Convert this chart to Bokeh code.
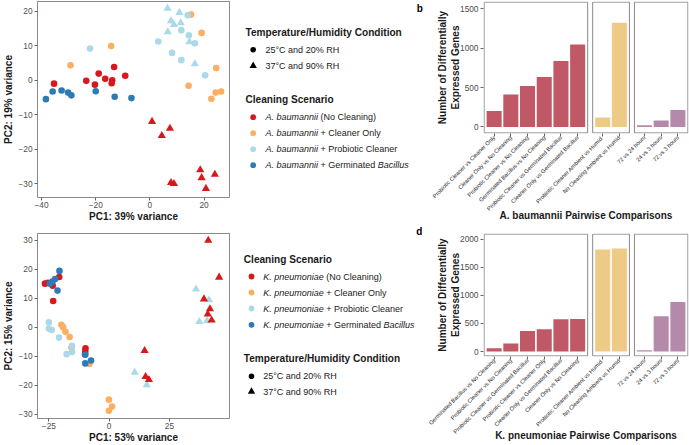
import math
from bokeh.plotting import figure
from bokeh.layouts import row, column
from bokeh.models import Range1d, FixedTicker, Label
from bokeh.embed import file_html
from bokeh.resources import INLINE
from bokeh.core.properties import value

FONT = "Liberation Sans"
INK = "#1A1A1A"
TICK_GREY = "#4D4D4D"
FRAME_GREY = "#8A8A8A"
TICK_PX = 8.3
TITLE_PX = 10.0
LEG_TITLE_PX = 10.1
ITEM_PX = 9.0
BAR_LABEL_PX = 5.7

# ---------------- categories ----------------
scenarios = ["No Cleaning", "Cleaner Only", "Probiotic Cleaner", "Germinated Bacillus"]
scenario_colors = ["#D7191C", "#FDAE61", "#ABD9E9", "#2C7BB6"]
scenario_suffix = ["(No Cleaning)", "+ Cleaner Only", "+ Probiotic Cleaner", "+ Germinated"]
scenario_tail = ["", "", "", "Bacillus"]
conditions = ["25°C and 20% RH", "37°C and 90% RH"]
condition_markers = ["circle", "triangle"]

# ---------------- panel a: A. baumannii PCA ----------------
a_pc1 = [-38.4, -35.9, -32.6, -30.2, -29.0, -20.0, -13.0, -6.8,
         -35.4, -23.5, -20.3, -18.9, -16.5, -13.9, -14.1, -13.2, -9.1,
         0.8, 7.4, 4.4, 7.8, 8.9, 18.6, 19.1, 24.0, 20.7,
         -29.3, -14.3, 15.2, 19.1, 24.5, 14.3, 24.3, 26.3, 22.7,
         -22.1, 14.0, 11.6, 14.4, 16.6, 3.1, 8.2, 11.6, 20.4,
         6.5, 10.9, 7.8, 8.9, 11.4, 6.6, 14.6, 16.6]
a_pc2 = [-5.5, -3.3, -3.0, -3.6, -4.4, -3.2, -4.8, -5.2,
         -1.0, -0.2, -1.3, 1.9, 0.4, 0.0, -0.9, 3.8, 1.3,
         -12.0, -14.0, -16.1, -29.7, -30.0, -26.0, -28.3, -27.3, -31.4,
         4.3, 9.9, 19.0, 13.7, 3.5, -1.6, -3.6, -3.3, -5.4,
         9.2, 18.8, 14.5, 13.0, 10.7, 11.2, 7.9, 5.8, 1.4,
         20.8, 19.6, 17.2, 16.1, 16.6, 14.0, 11.1, 4.7]
a_scenario = (["Germinated Bacillus"] * 8 + ["No Cleaning"] * 9 + ["No Cleaning"] * 9 +
              ["Cleaner Only"] * 9 + ["Probiotic Cleaner"] * 9 + ["Probiotic Cleaner"] * 8)
a_condition = ([conditions[0]] * 8 + [conditions[0]] * 9 + [conditions[1]] * 9 +
               [conditions[0]] * 9 + [conditions[0]] * 9 + [conditions[1]] * 8)

# ---------------- panel c: K. pneumoniae PCA ----------------
c_pc1 = [-26.6, -25.4, -23.4, -20.7, -23.2, -9.8, -9.9, -10.0,
         -20.6, -22.4, -23.5, -24.6, -21.4, -9.9, -9.9, -7.5,
         -25.0, -25.0, -23.8, -20.8, -15.4, -15.4, -17.6,
         -19.8, -19.1, -18.1, -16.4, -15.6, -8.2, -0.1, 1.2, -0.1,
         10.6, 15.6, 36.0, 41.4, 37.4, 40.6,
         14.7, 15.1, 16.5, 41.1, 45.6, 39.3, 41.8, 40.9, 42.5]
c_pc2 = [15.0, 15.3, 14.3, 17.3, 9.0, -7.3, -8.4, -9.3,
         19.4, 16.6, 15.7, 15.0, 12.6, -9.5, -12.5, -11.5,
         1.7, -0.5, -1.0, -3.6, -6.4, -8.6, -9.3,
         0.8, 0.0, -1.6, -3.4, -7.0, -12.7, -25.0, -27.4, -28.8,
         -15.6, -19.9, 13.1, 9.4, 1.9, 2.2,
         -8.1, -17.1, -18.1, 29.9, 17.2, 9.7, 6.3, 4.5, 2.4]
c_scenario = (["No Cleaning"] * 8 + ["Germinated Bacillus"] * 8 + ["Probiotic Cleaner"] * 7 +
              ["Cleaner Only"] * 9 + ["Probiotic Cleaner"] * 6 + ["No Cleaning"] * 9)
c_condition = ([conditions[0]] * 8 + [conditions[0]] * 8 + [conditions[0]] * 7 +
               [conditions[0]] * 9 + [conditions[1]] * 6 + [conditions[1]] * 9)

# ---------------- panels b / d: differential expression counts ----------------
facet_order = ["scenario", "condition", "time"]
facet_colors = {"scenario": "#C05866", "condition": "#EDCB86", "time": "#B589AA"}

b_labels = ["Probiotic Cleaner vs Cleaner Only", "Cleaner Only vs No Cleaning",
            "Probiotic Cleaner vs No Cleaning", "Germinated Bacillus vs No Cleaning",
            "Probiotic Cleaner vs Germinated Bacillus", "Cleaner Only vs Germinated Bacillus",
            "Probiotic Cleaner  Ambient vs Humid", "No Cleaning Ambient vs Humid",
            "72 vs 24 hours", "24 vs 3 hours", "72 vs 3 hours"]
b_facet = ["scenario"] * 6 + ["condition"] * 2 + ["time"] * 3
b_values = [204, 412, 521, 633, 837, 1046, 121, 1321, 21, 83, 217]

d_labels = ["Germinated Bacillus vs No Cleaning", "Probiotic Cleaner vs No Cleaning",
            "Probiotic Cleaner vs Germinated Bacillus", "Probiotic Cleaner vs Cleaner Only",
            "Cleaner Only vs Germinated Bacillus", "Cleaner Only vs No Cleaning",
            "Probiotic Cleaner  Ambient vs Humid", "No Cleaning Ambient vs Humid",
            "72 vs 24 hours", "24 vs 3 hours", "72 vs 3 hours"]
d_facet = ["scenario"] * 6 + ["condition"] * 2 + ["time"] * 3
d_values = [59, 142, 366, 395, 573, 579, 1812, 1830, 24, 626, 880]

# ---------------- text metrics (Arial/Liberation widths) ----------------
_REG = {' ': 278, '(': 333, ')': 333, '+': 584, '.': 278, '/': 278, '%': 889, '°': 400,
        'A': 667, 'B': 667, 'C': 722, 'G': 778, 'H': 722, 'K': 667, 'N': 722, 'O': 778,
        'P': 667, 'R': 722, 'S': 667, 'T': 611, 'a': 556, 'b': 556, 'c': 500, 'd': 556,
        'e': 556, 'g': 556, 'h': 556, 'i': 222, 'l': 222, 'm': 833, 'n': 556, 'o': 556,
        'p': 556, 'r': 333, 's': 500, 't': 278, 'u': 556, 'v': 500, 'w': 722, 'y': 500}


def text_width(s, size):
    return sum(_REG.get(ch, 556) for ch in s) / 1000.0 * size


def minus(t):
    return ("\u2212" + str(abs(t))) if t < 0 else str(t)


def style_axes(p):
    for ax in p.axis:
        ax.axis_line_color = None
        ax.major_tick_line_color = "#666666"
        ax.major_tick_in = 0
        ax.major_tick_out = 3
        ax.minor_tick_line_color = None
        ax.major_label_text_font = FONT
        ax.major_label_text_font_size = f"{TICK_PX}px"
        ax.major_label_text_color = TICK_GREY
        ax.axis_label_text_font = FONT
        ax.axis_label_text_font_size = f"{TITLE_PX}px"
        ax.axis_label_text_font_style = "bold"
        ax.axis_label_text_color = INK


def scatter_panel(pc1, pc2, scen, cond, xr, yr, xticks, yticks, xlabel, ylabel,
                  width, height, top, bottom, left, letter, letter_dx, letter_dy):
    p = figure(width=width, height=height, x_range=Range1d(*xr), y_range=Range1d(*yr),
               output_backend="svg", toolbar_location=None,
               min_border_left=left, min_border_right=1, min_border_top=top,
               min_border_bottom=bottom)
    p.grid.visible = False
    p.outline_line_color = FRAME_GREY
    p.outline_line_width = 1
    draw_order = ["Cleaner Only", "Probiotic Cleaner", "No Cleaning", "Germinated Bacillus"]
    for g in draw_order:
        col = scenario_colors[scenarios.index(g)]
        for c, mk, sz in zip(conditions, condition_markers, [6.6, 8.2]):
            idx = [i for i in range(len(pc1)) if scen[i] == g and cond[i] == c]
            if not idx:
                continue
            p.scatter([pc1[i] for i in idx], [pc2[i] for i in idx], marker=mk, size=sz,
                      fill_color=col, line_color=None)
    p.xaxis.ticker = FixedTicker(ticks=xticks)
    p.yaxis.ticker = FixedTicker(ticks=yticks)
    p.xaxis.major_label_overrides = {t: minus(t) for t in xticks}
    p.yaxis.major_label_overrides = {t: minus(t) for t in yticks}
    p.xaxis.axis_label = xlabel
    p.yaxis.axis_label = ylabel
    style_axes(p)
    p.xaxis.major_label_standoff = 1
    p.xaxis.axis_label_standoff = 0
    p.yaxis.major_label_standoff = 2
    p.yaxis.axis_label_standoff = 1
    p.add_layout(Label(x=xr[0], y=yr[1], x_offset=letter_dx, y_offset=letter_dy, text=letter,
                       text_font=FONT, text_font_size="10px", text_font_style="bold",
                       text_color="black", text_align="center", text_baseline="middle"))
    return p


def legend_panel(width, height, x_title, x_marker, x_text, blocks, letter, letter_xy):
    p = figure(width=width, height=height, x_range=Range1d(0, width), y_range=Range1d(height, 0),
               output_backend="svg", toolbar_location=None, x_axis_location=None,
               y_axis_location=None, min_border=0, outline_line_color=None)
    p.grid.visible = False
    for title, y_title, entries in blocks:
        p.text(x=[x_title], y=[y_title], text=[title], text_font=value(FONT),
               text_font_size=value(f"{LEG_TITLE_PX}px"), text_font_style="bold",
               text_baseline="middle", text_align="left", text_color=INK)
        for mk, msize, color, parts, y in entries:
            p.scatter([x_marker], [y], marker=mk, size=msize, fill_color=color, line_color=None)
            cx = x_text
            for txt, st in parts:
                if not txt:
                    continue
                lead = len(txt) - len(txt.lstrip(" "))
                p.text(x=[cx + text_width(" " * lead, ITEM_PX)], y=[y], text=[txt.strip()],
                       text_font=value(FONT), text_font_size=value(f"{ITEM_PX}px"),
                       text_font_style=st, text_baseline="middle", text_align="left",
                       text_color=INK)
                cx += text_width(txt, ITEM_PX)
    p.text(x=[letter_xy[0]], y=[letter_xy[1]], text=[letter], text_font=value(FONT),
           text_font_size=value("10px"), text_font_style="bold", text_baseline="middle",
           text_align="center", text_color="black")
    return p


def condition_entries(ys):
    return [(condition_markers[i], [5.6, 7.4][i], "black", [(conditions[i], "normal")], ys[i])
            for i in range(len(conditions))]


def scenario_entries(species, ys):
    out = []
    for i in range(len(scenarios)):
        parts = [(species, "italic"), (" " + scenario_suffix[i], "normal")]
        if scenario_tail[i]:
            parts.append((" " + scenario_tail[i], "italic"))
        out.append(("circle", 5.8, scenario_colors[i], parts, ys[i]))
    return out


def bar_panel(labels, facets, values, y_lo, y_hi, yticks, width, height, top, bottom, left,
              species, title_standoff):
    gap = 0.3
    xs = [0.0] * len(labels)
    frames = []
    start = 0.0
    for f in facet_order:
        idx = [i for i, ff in enumerate(facets) if ff == f]
        for k, i in enumerate(idx):
            xs[i] = round(start + 0.6 + k, 3)
        end = start + len(idx) + 0.2
        frames.append((start, end))
        start = end + gap
    x_hi = frames[-1][1]
    frame_w = width - left - 1
    frame_h = height - top - bottom
    px = x_hi / frame_w * 0.6
    py = (y_hi - y_lo) / frame_h * 0.6
    p = figure(width=width, height=height, x_range=Range1d(-px, x_hi + px),
               y_range=Range1d(y_lo - py, y_hi + py), output_backend="svg",
               toolbar_location=None, min_border_left=left, min_border_right=1,
               min_border_top=top, min_border_bottom=bottom)
    p.grid.visible = False
    p.outline_line_color = None
    p.vbar(x=xs, top=values, bottom=0, width=0.9,
           fill_color=[facet_colors[f] for f in facets], line_color=None)
    p.quad(left=[f[0] for f in frames], right=[f[1] for f in frames], bottom=y_lo, top=y_hi,
           fill_color=None, line_color=FRAME_GREY, line_width=1)
    p.xaxis.ticker = FixedTicker(ticks=xs)
    p.xaxis.major_label_overrides = {x: lab for x, lab in zip(xs, labels)}
    p.yaxis.ticker = FixedTicker(ticks=yticks)
    p.yaxis.axis_label = "Number of Differentially\nExpressed Genes"
    p.xaxis.axis_label = f"{species} Pairwise Comparisons"
    style_axes(p)
    p.xaxis.major_label_orientation = math.pi / 4
    p.xaxis.major_label_text_font_size = f"{BAR_LABEL_PX}px"
    p.xaxis.major_label_text_color = INK
    p.xaxis.major_label_standoff = 0
    p.xaxis.axis_label_standoff = title_standoff
    p.yaxis.major_label_standoff = 2
    p.yaxis.axis_label_standoff = -4
    return p


# ---------------- build ----------------
sa = scatter_panel(a_pc1, a_pc2, a_scenario, a_condition, (-41.5, 29.4), (-34.0, 22.8),
                   [-40, -20, 0, 20], [-30, -20, -10, 0, 10, 20],
                   "PC1: 39% variance", "PC2: 19% variance",
                   230, 224, 1, 27, 32, "a", -25.0, -7.0)
la = legend_panel(193, 224, 15.0, 22.7, 35.0,
                  [("Temperature/Humidity Condition", 32.3, condition_entries([49.3, 65.3])),
                   ("Cleaning Scenario", 99.0,
                    scenario_entries("A. baumannii", [116.7, 132.7, 148.7, 164.7]))],
                  "b", (189.2, 8.0))
ba = bar_panel(b_labels, b_facet, b_values, -75, 1584, [0, 500, 1000, 1500],
               266, 224, 1, 91, 60, "A. baumannii", -7)

sc = scatter_panel(c_pc1, c_pc2, c_scenario, c_condition, (-29.7, 49.9), (-31.5, 32.3),
                   [-25, 0, 25], [-30, -20, -10, 0, 10, 20, 30],
                   "PC1: 53% variance", "PC2: 15% variance",
                   230, 221, 9, 26, 32, "c", -27.5, 2.0)
lc = legend_panel(193, 221, 13.3, 21.0, 32.7,
                  [("Cleaning Scenario", 35.0,
                    scenario_entries("K. pneumoniae", [52.0, 68.0, 84.0, 100.3])),
                   ("Temperature/Humidity Condition", 134.3, condition_entries([151.7, 167.0]))],
                  "d", (188.7, 7.0))
bd = bar_panel(d_labels, d_facet, d_values, -78, 2088, [0, 500, 1000, 1500, 2000],
               266, 221, 9, 89, 60, "K. pneumoniae", -10)

layout = row(column(sa, sc), column(la, lc), column(ba, bd))
open("out.html", "w").write(file_html(layout, INLINE))
